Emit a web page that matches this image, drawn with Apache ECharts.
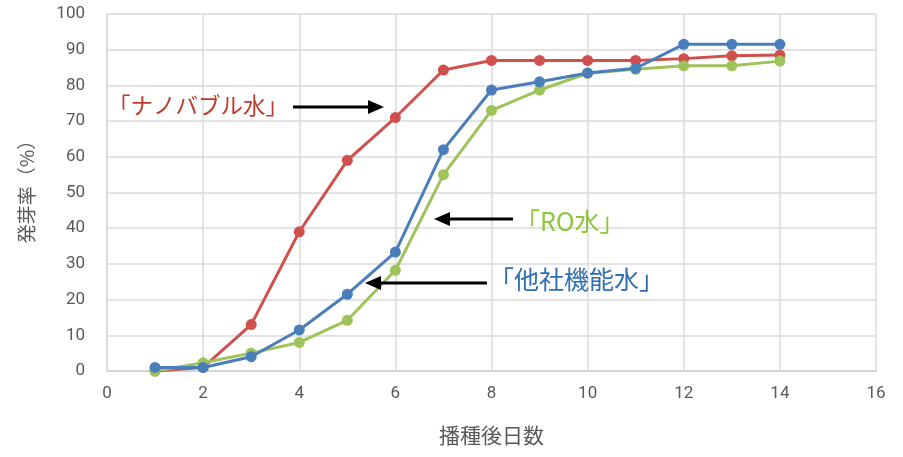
<!DOCTYPE html>
<html style="height: 100%">
<head>
<meta charset="utf-8">
<script src="https://cdn.jsdelivr.net/npm/echarts@6/dist/echarts.min.js"></script>
</head>
<body style="height: 100%; margin: 0; background: #fff">
<div id="container" style="width: 903px; height: 457px"></div>
<script type="text/javascript">
// days after sowing
var days = [1, 2, 3, 4, 5, 6, 7, 8, 9, 10, 11, 12, 13, 14];
// germination rate (%)
var otherWater = [1, 1, 4, 11.5, 21.5, 33.3, 62, 78.7, 81, 83.5, 84.8, 91.5, 91.5, 91.5];
var nanoBubble = [0, 1, 13, 39, 59, 71, 84.3, 87, 87, 87, 87, 87.5, 88.3, 88.5];
var roWater = [0, 2.3, 5, 8, 14.2, 28.2, 55, 73, 78.7, 83.4, 84.5, 85.5, 85.5, 86.8];

var seriesNames = ['他社機能水', 'ナノバブル水', 'RO水'];
var seriesColors = ['#4a7ebb', '#d0504d', '#9dc35a'];

function pairs(values) {
    return values.map(function (v, i) { return [days[i], v]; });
}

var dom = document.getElementById('container');
var myChart = echarts.init(dom);

function arrow(x1, x2, y) {
    // x2 is the tip of the arrow
    var dir = x2 > x1 ? 1 : -1;
    var base = x2 - dir * 16;
    return [
        { type: 'line', shape: { x1: x1, y1: y, x2: base, y2: y }, style: { stroke: '#000', lineWidth: 3 }, z: 20 },
        { type: 'polygon', shape: { points: [[x2, y], [base, y - 7], [base, y + 7]] }, style: { fill: '#000' }, z: 20 }
    ];
}

var labelFont = '"Noto Sans CJK JP", "Noto Sans", sans-serif';

var option = {
    animation: false,
    backgroundColor: '#fff',
    grid: { left: 107, right: 27, top: 14, bottom: 86, show: false },
    xAxis: {
        type: 'value',
        min: 0, max: 16, interval: 2,
        name: '播種後日数',
        nameLocation: 'middle',
        nameGap: 54,
        nameTextStyle: { fontSize: 21, color: '#595959', fontFamily: labelFont },
        axisLine: { show: true, lineStyle: { color: '#d0d0d0', width: 1.5 } },
        axisTick: { show: false },
        axisLabel: { fontSize: 17, color: '#595959', margin: 14, fontFamily: 'Roboto, sans-serif' },
        splitLine: { show: true, lineStyle: { color: '#dadada', width: 1.5 } }
    },
    yAxis: {
        type: 'value',
        min: 0, max: 100, interval: 10,
        axisLine: { show: true, lineStyle: { color: '#dadada', width: 1.5 } },
        axisTick: { show: false },
        axisLabel: { fontSize: 17, color: '#595959', margin: 22, fontFamily: 'Roboto, sans-serif' },
        splitLine: { show: true, lineStyle: { color: '#dadada', width: 1.5 } }
    },
    series: [otherWater, nanoBubble, roWater].map(function (vals, i) {
        return {
            name: seriesNames[i],
            type: 'line',
            data: pairs(vals),
            symbol: 'circle',
            symbolSize: 11,
            lineStyle: { width: 3, color: seriesColors[i] },
            itemStyle: { color: seriesColors[i] },
            z: i === 0 ? 4 : 3
        };
    }),
    graphic: [
        // y axis title
        { type: 'text', x: 27, y: 187, rotation: Math.PI / 2,
          style: { text: '発芽率（%）', fill: '#595959', font: '19px ' + labelFont, align: 'center', verticalAlign: 'middle' } },
        { type: 'text', left: 108, top: 94, style: { text: '「ナノバブル水」', fill: '#c0392b', font: '22.5px ' + labelFont }, z: 20 },
        { type: 'text', left: 515, top: 209, style: { text: '「RO水」', fill: '#8cc63f', font: '25px ' + labelFont }, z: 20 },
        { type: 'text', left: 489, top: 267, style: { text: '「他社機能水」', fill: '#2e6fb4', font: '25px ' + labelFont }, z: 20 }
    ].concat(arrow(293, 384, 107), arrow(513, 434, 219), arrow(487, 365, 283))
};

myChart.setOption(option, true);
</script>
</body>
</html>
